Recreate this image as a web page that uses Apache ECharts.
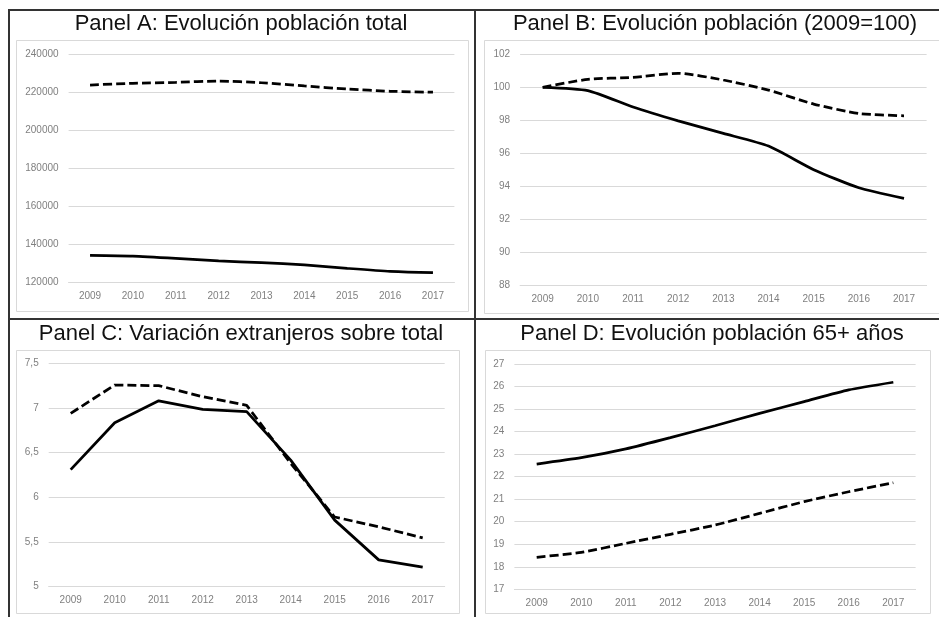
<!DOCTYPE html>
<html>
<head>
<meta charset="utf-8">
<script src="https://cdn.jsdelivr.net/npm/echarts@6/dist/echarts.min.js"></script>
<style>
html,body{margin:0;padding:0;background:#fff;}
#c{width:939px;height:617px;}
</style>
</head>
<body>
<div id="c"></div>
<script>
const years = ['2009','2010','2011','2012','2013','2014','2015','2016','2017'];

const titleA = 'Panel A: Evolución población total';
const titleB = 'Panel B: Evolución población (2009=100)';
const titleC = 'Panel C: Variación extranjeros sobre total';
const titleD = 'Panel D: Evolución población 65+ años';

const panelA_solid  = [134100,133700,132500,131100,130200,129000,127200,125600,124900];
const panelA_dashed = [223900,224800,225300,226000,225100,223400,221800,220600,220100];

const panelB_solid  = [100,99.8,98.8,97.96,97.2,96.43,95.0,93.9,93.26];
const panelB_dashed = [100,100.48,100.6,100.85,100.44,99.83,98.98,98.41,98.27];

const panelC_solid  = [6.31,6.835,7.08,6.985,6.96,6.417,5.745,5.30,5.22];
const panelC_dashed = [6.94,7.257,7.25,7.126,7.03,6.38,5.78,5.67,5.547];

const panelD_solid  = [22.56,22.84,23.23,23.73,24.26,24.81,25.33,25.85,26.19];
const panelD_dashed = [18.42,18.64,19.04,19.44,19.85,20.37,20.89,21.33,21.73];

const yRangeA = {min:120000, max:240000, interval:20000};
const yRangeB = {min:88, max:102, interval:2};
const yRangeC = {min:5, max:7.5, interval:0.5};
const yRangeD = {min:17, max:27, interval:1};

const chart = echarts.init(document.getElementById('c'), null, {renderer:'canvas'});

const FONT = '"Liberation Sans", Arial, sans-serif';
const gridColor = '#d9d9d9';
const labelColor = '#808080';

function xAx(i){
  return {
    type:'category', gridIndex:i, data:years, boundaryGap:true,
    axisLine:{show:true, lineStyle:{color:gridColor, width:1}},
    axisTick:{show:false},
    axisLabel:{color:labelColor, fontSize:10, fontFamily:FONT, margin:9}
  };
}
function yAx(i, r, fmt){
  return {
    type:'value', gridIndex:i, min:r.min, max:r.max, interval:r.interval,
    axisLine:{show:false}, axisTick:{show:false},
    splitLine:{show:true, lineStyle:{color:gridColor, width:1}},
    axisLabel:{color:labelColor, fontSize:10, fontFamily:FONT, margin:10, formatter:fmt}
  };
}
function ser(i, data, dashed, smooth){
  return {
    type:'line', xAxisIndex:i, yAxisIndex:i, data:data, symbol:'none',
    smooth:smooth, silent:true,
    lineStyle:{color:'#000', width:2.75, type: dashed ? [9,4] : 'solid'}
  };
}
const plainFmt = v => String(v);
const commaFmt = v => String(v).replace('.', ',');

function titleText(txt, x, y){
  return {type:'text', x:x, y:y, z:10,
    style:{text:txt, fill:'#111', font:'22px ' + FONT, textAlign:'center', textVerticalAlign:'middle'}};
}
function box(x, y, w, h){
  return {type:'rect', shape:{x:x, y:y, width:w, height:h}, z:-1,
    style:{fill:'none', stroke:gridColor, lineWidth:1}};
}
function ln(x1,y1,x2,y2){
  return {type:'line', shape:{x1:x1,y1:y1,x2:x2,y2:y2}, z:20,
    style:{stroke:'#333', lineWidth:2}};
}

chart.setOption({
  backgroundColor:'#fff',
  animation:false,
  grid:[
    {left:68.6, top:54.5, width:385.8, height:227.5},
    {left:520.1, top:54.3, width:406.5, height:230.7},
    {left:48.7, top:363.3, width:396, height:223.4},
    {left:514.4, top:364, width:401.2, height:225.3}
  ],
  xAxis:[xAx(0), xAx(1), xAx(2), xAx(3)],
  yAxis:[yAx(0,yRangeA,plainFmt), yAx(1,yRangeB,plainFmt), yAx(2,yRangeC,commaFmt), yAx(3,yRangeD,plainFmt)],
  series:[
    ser(0, panelA_dashed, true, 0.2), ser(0, panelA_solid, false, 0.2),
    ser(1, panelB_dashed, true, 0.2), ser(1, panelB_solid, false, 0.2),
    ser(2, panelC_dashed, true, false), ser(2, panelC_solid, false, false),
    ser(3, panelD_dashed, true, 0.2), ser(3, panelD_solid, false, 0.2)
  ],
  graphic:[
    box(16.5, 40.5, 452, 271),
    box(484.5, 40.5, 470, 273),
    box(16.5, 350.5, 443, 263),
    box(485.5, 350.5, 445, 263),
    ln(8, 10, 939, 10),
    ln(9, 10, 9, 617),
    ln(475, 10, 475, 617),
    ln(9, 319, 939, 319),
    titleText(titleA, 241, 24),
    titleText(titleB, 715, 24),
    titleText(titleC, 241, 334),
    titleText(titleD, 712, 334)
  ]
});
</script>
</body>
</html>
